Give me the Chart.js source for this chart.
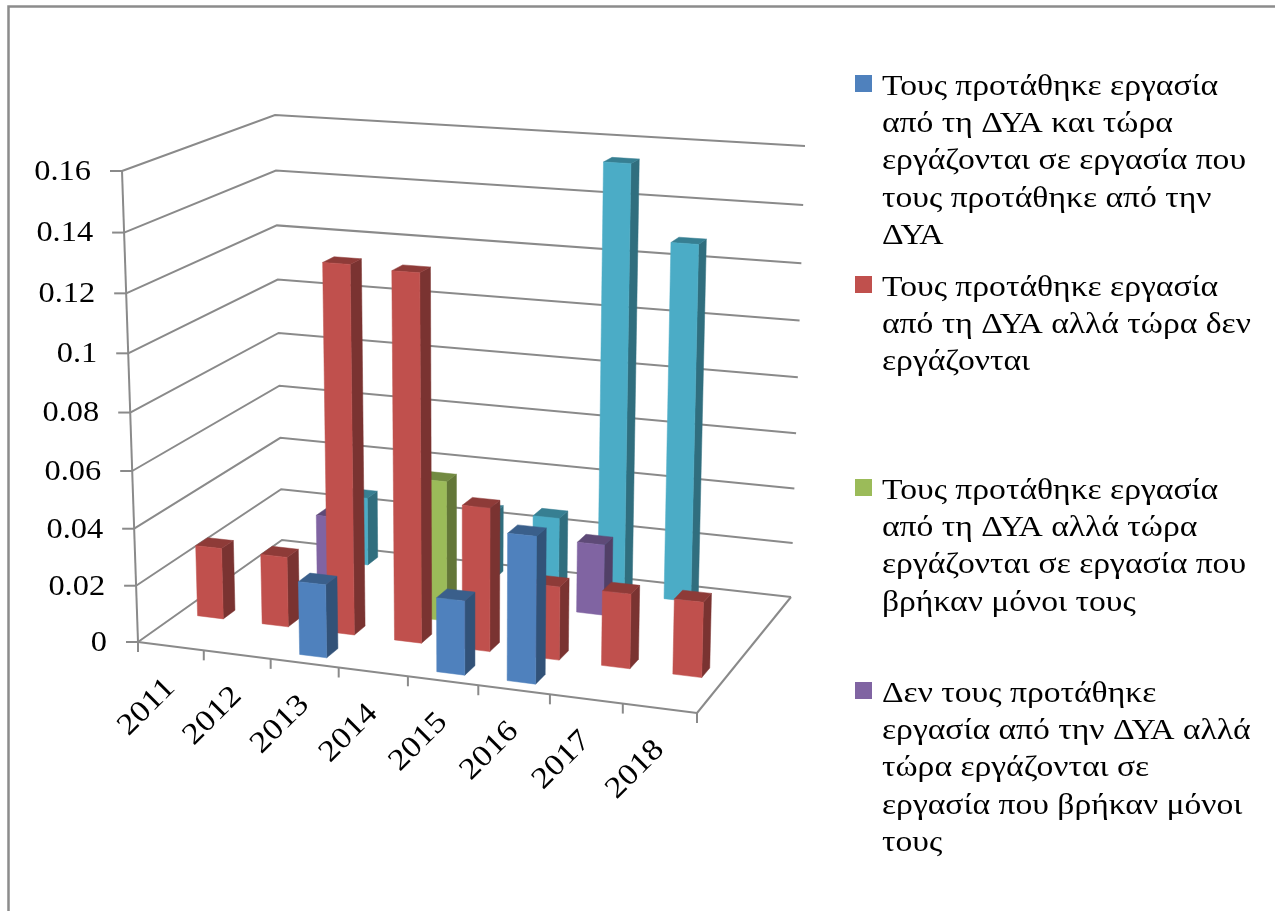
<!DOCTYPE html>
<html><head><meta charset="utf-8">
<style>html,body{margin:0;padding:0;background:#fff}canvas{display:block;filter:blur(0.45px)}</style>
<script src="https://cdn.jsdelivr.net/npm/chart.js@4"></script></head>
<body><canvas id="c" width="1275" height="911"></canvas>
<script>
const years = ['2011','2012','2013','2014','2015','2016','2017','2018'];
const offeredWorkingOffered = [null,null,0.0255,null,0.0255,0.05,null,null];
const offeredNotWorking = [0.0255,0.025,0.128,0.127,0.05,0.0255,0.0258,0.0258];
const offeredWorkingOwn = [null,null,null,0.05,null,null,null,null];
const notOfferedWorkingOwn = [null,0.025,null,null,null,0.0255,null,null];
const unlabelled = [null,0.0255,null,0.025,0.0255,0.1535,0.1275,null];
const seriesColors = ['#4F81BD','#C0504D','#9BBB59','#8064A2','#4BACC6'];
const legend1 = ['Τους προτάθηκε εργασία','από τη ΔΥΑ και τώρα','εργάζονται σε εργασία που','τους προτάθηκε από την','ΔΥΑ'];
const legend2 = ['Τους προτάθηκε εργασία','από τη ΔΥΑ αλλά τώρα δεν','εργάζονται'];
const legend3 = ['Τους προτάθηκε εργασία','από τη ΔΥΑ αλλά τώρα','εργάζονται σε εργασία που','βρήκαν μόνοι τους'];
const legend4 = ['Δεν τους προτάθηκε','εργασία από την ΔΥΑ αλλά','τώρα εργάζονται σε','εργασία που βρήκαν μόνοι','τους'];

const FONT = '"Liberation Serif", serif';
const floorQuad = [[138,642],[697,713],[791,597],[282,540]];
const ceilQuad  = [[122,171],[708,210],[805,146],[275,115]];
const legendBaselines = [95,296,499,702];

function homography(q){
  const [p0,p1,p2,p3]=q;
  const dx1=p1[0]-p2[0],dx2=p3[0]-p2[0],sx=p0[0]-p1[0]+p2[0]-p3[0];
  const dy1=p1[1]-p2[1],dy2=p3[1]-p2[1],sy=p0[1]-p1[1]+p2[1]-p3[1];
  const den=dx1*dy2-dx2*dy1;
  const g=(sx*dy2-dx2*sy)/den,h=(dx1*sy-sx*dy1)/den;
  const a=p1[0]-p0[0]+g*p1[0],b=p3[0]-p0[0]+h*p3[0],c=p0[0];
  const d=p1[1]-p0[1]+g*p1[1],e=p3[1]-p0[1]+h*p3[1],f=p0[1];
  return (u,v)=>{const w=g*u+h*v+1;return [(a*u+b*v+c)/w,(d*u+e*v+f)/w];};
}
const Hf=homography(floorQuad),Hc=homography(ceilQuad);
function P(u,d,h){const k=0.05,t=h*(1-k)/(1-k*h),a=Hf(u,d),b=Hc(u,d);return [a[0]+(b[0]-a[0])*t,a[1]+(b[1]-a[1])*t];}
function shade(hex,k){const n=parseInt(hex.slice(1),16);return `rgb(${(n>>16)*k|0},${((n>>8)&255)*k|0},${(n&255)*k|0})`;}
function poly(ctx,pts,fill){ctx.beginPath();pts.forEach((p,i)=>i?ctx.lineTo(p[0],p[1]):ctx.moveTo(p[0],p[1]));ctx.closePath();ctx.fillStyle=fill;ctx.fill();ctx.strokeStyle=fill;ctx.lineWidth=0.5;ctx.stroke();}
function line(ctx,a,b){ctx.beginPath();ctx.moveTo(a[0],a[1]);ctx.lineTo(b[0],b[1]);ctx.stroke();}

const scene3d={
  id:'scene3d',
  beforeDatasetsDraw(chart){
    const ctx=chart.ctx,x=chart.scales.x,y=chart.scales.y;
    const U=px=>(px-x.left)/x.width, H=px=>(y.bottom-px)/y.height;
    ctx.save();
    // outer frame
    ctx.strokeStyle='#8c8c8c';ctx.lineWidth=2.5;
    ctx.beginPath();ctx.moveTo(8.5,911);ctx.lineTo(8.5,6.5);ctx.lineTo(1275,6.5);ctx.stroke();
    // walls
    ctx.strokeStyle='#8a8a8a';ctx.lineWidth=2;
    y.ticks.forEach(t=>{
      const h=H(y.getPixelForValue(t.value));
      const a=P(0,0,h),b=P(0,1,h),c=P(1,1,h);
      ctx.beginPath();ctx.moveTo(a[0],a[1]);ctx.lineTo(b[0],b[1]);ctx.lineTo(c[0],c[1]);ctx.stroke();
      line(ctx,[a[0]-12,a[1]],a);
    });
    line(ctx,P(0,0,0),P(0,0,1));
    line(ctx,P(0,0,0),P(1,0,0));
    line(ctx,P(1,0,0),P(1,1,0));
    const n=years.length;
    for(let i=0;i<=n;i++){const p=P(i/n,0,0);line(ctx,p,[p[0],p[1]+10]);}
    // tick labels
    ctx.fillStyle='#000';ctx.font='30px '+FONT;ctx.textAlign='right';ctx.textBaseline='middle';
    y.ticks.forEach(t=>{
      const a=P(0,0,H(y.getPixelForValue(t.value)));
      ctx.save();ctx.translate(a[0]-31,a[1]+1);ctx.scale(1.08,1);ctx.fillText(t.label,0,0);ctx.restore();
    });
    x.ticks.forEach((t,i)=>{
      const p=P(U(x.getPixelForTick(i)),0,0);
      ctx.save();ctx.translate(p[0],p[1]+37);ctx.rotate(-Math.PI/4);ctx.scale(1.15,1);
      ctx.textBaseline='middle';ctx.fillText(t.label,0,0);ctx.restore();
    });
    // bars, back row first
    const rows=chart.data.datasets.length;
    for(let r=rows-1;r>=0;r--){
      const meta=chart.getDatasetMeta(r),col=chart.data.datasets[r].backgroundColor;
      const d0=(r+0.5)/rows-0.04,d1=(r+0.5)/rows+0.04;
      meta.data.forEach((el,i)=>{
        if(!Number.isFinite(chart.data.datasets[r].data[i]))return;
        const u0=U(el.x-el.width/2),u1=U(el.x+el.width/2),h1=H(el.y),h0=H(el.base);
        poly(ctx,[P(u1,d0,h0),P(u1,d1,h0),P(u1,d1,h1),P(u1,d0,h1)],shade(col,0.64));
        poly(ctx,[P(u0,d0,h1),P(u1,d0,h1),P(u1,d1,h1),P(u0,d1,h1)],shade(col,0.74));
        poly(ctx,[P(u0,d0,h0),P(u1,d0,h0),P(u1,d0,h1),P(u0,d0,h1)],col);
      });
    }
    // legend
    ctx.textAlign='left';ctx.textBaseline='alphabetic';ctx.font='30px '+FONT;
    chart.data.datasets.slice(0,4).forEach((ds,i)=>{
      const b=legendBaselines[i];
      ctx.fillStyle=ds.backgroundColor;ctx.fillRect(855,b-20,17,17);
      ctx.fillStyle='#000';
      ds.label.forEach((l,k)=>{ctx.save();ctx.translate(882,b+k*37.2);ctx.scale(1.12,1);ctx.fillText(l,0,0);ctx.restore();});
    });
    ctx.restore();
    return false;
  }
};
const mk=(label,data,i)=>({label,data,backgroundColor:seriesColors[i]});
new Chart(document.getElementById('c'),{
  type:'bar',
  data:{labels:years,datasets:[
    mk(legend1,offeredWorkingOffered,0),mk(legend2,offeredNotWorking,1),
    mk(legend3,offeredWorkingOwn,2),mk(legend4,notOfferedWorkingOwn,3),
    mk([''],unlabelled,4)]},
  plugins:[scene3d],
  options:{
    responsive:false,animation:false,
    layout:{padding:0},
    datasets:{bar:{grouped:false,barPercentage:0.4,categoryPercentage:1}},
    plugins:{legend:{display:false},tooltip:{enabled:false}},
    scales:{
      x:{display:false},
      y:{display:false,min:0,max:0.16,ticks:{stepSize:0.02,callback:v=>String(+v.toFixed(2))}}
    }
  }
});
</script></body></html>
